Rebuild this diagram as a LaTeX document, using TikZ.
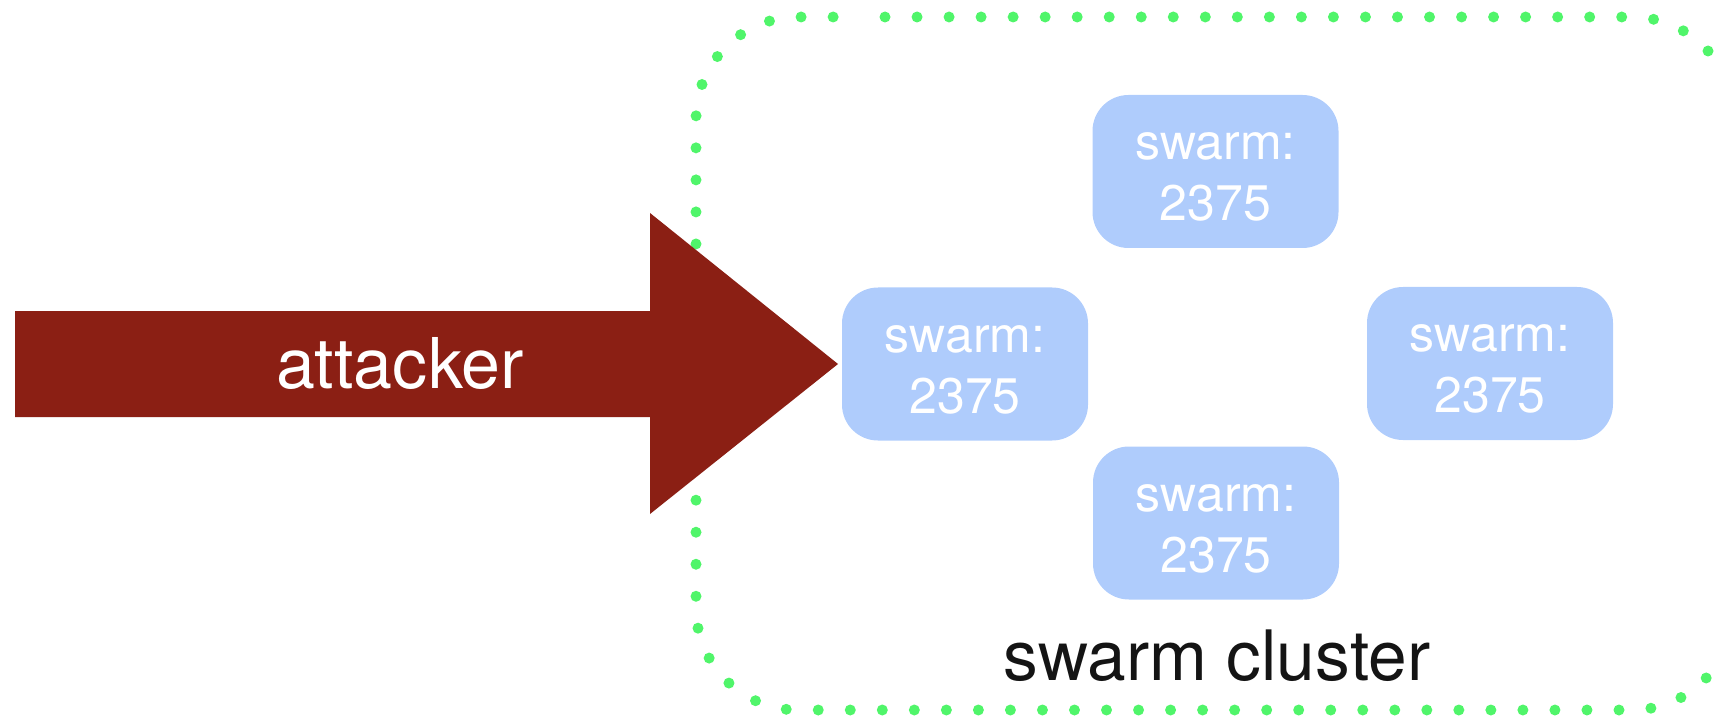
\documentclass[tikz,border=0pt]{standalone}
\usepackage{fontspec}
\setmainfont{TeX Gyre Heros}
\definecolor{dotgreen}{RGB}{80,245,106}
\definecolor{attackred}{RGB}{139,31,20}
\definecolor{boxblue}{RGB}{175,204,252}
\definecolor{labelblack}{RGB}{20,20,20}
\tikzset{
  dotline/.style={draw=dotgreen, line width=11pt, line cap=round, dash pattern=on 0pt off 32.03pt},
  swbox/.style={fill=boxblue, rounded corners=36pt, minimum width=246pt, minimum height=153pt, inner sep=0pt},
  boxtxt/.style={text=white, font=\fontsize{50}{60}\selectfont, anchor=base, inner sep=0pt},
  arrowtxt/.style={text=white, font=\fontsize{70}{80}\selectfont, anchor=base, inner sep=0pt},
  clustertxt/.style={text=labelblack, font=\fontsize{69.5}{78}\selectfont, anchor=base, inner sep=0pt},
  attackshape/.style={fill=attackred, draw=none}
}
\newcommand\swarmbox[3]{%
  \node[swbox] (#1) at (#2,#3) {};
  \node[boxtxt] (#1-a) at ([yshift=12pt]#1.center) {swarm:};
  \node[boxtxt] (#1-b) at ([yshift=-49pt]#1.center) {2375};
}
\begin{document}
\begin{tikzpicture}[x=1pt,y=-1pt]
  \clip (0,0) rectangle (1718,719);
  % dotted cluster boundary
  \draw[dotline, rounded corners=102pt] (885,17) -- (1734,17) -- (1734,710) -- (696,710) -- (696,17) -- (834,17);
  % attacker arrow
  \path[attackshape] (15,311) -- (650,311) -- (650,213) -- (838,364) -- (650,514) -- (650,417) -- (15,417) -- cycle;
  \node[arrowtxt] (attacker) at (400,388) {attacker};
  % swarm boxes
  \swarmbox{btop}{1215.5}{171.5}
  \swarmbox{bleft}{965}{364}
  \swarmbox{bright}{1490}{363.5}
  \swarmbox{bbottom}{1216}{523}
  % cluster label
  \node[clustertxt] (cluster) at (1217,680) {swarm cluster};
\end{tikzpicture}
\end{document}
